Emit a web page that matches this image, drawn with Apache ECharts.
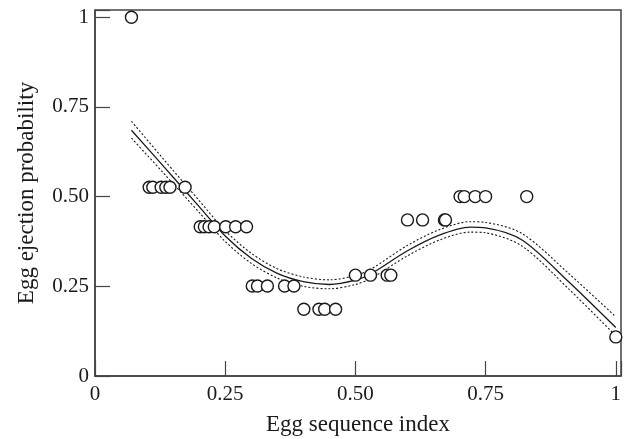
<!DOCTYPE html>
<html>
<head>
<meta charset="utf-8">
<script src="https://cdn.jsdelivr.net/npm/echarts@6/dist/echarts.min.js"></script>
<style>
  html, body { margin: 0; padding: 0; background: #fff; }
  #chart { width: 630px; height: 439px; }
</style>
</head>
<body>
<div id="chart"></div>
<script>
// observed eggs: sequence index vs ejection probability
var eggIndex = [0.070,
  0.104, 0.111, 0.127, 0.136, 0.144, 0.173,
  0.202, 0.210, 0.219, 0.229, 0.251, 0.270, 0.291,
  0.302, 0.312, 0.331, 0.364, 0.382,
  0.401, 0.430, 0.441, 0.462,
  0.500, 0.529, 0.561, 0.568,
  0.600, 0.629, 0.671, 0.673,
  0.701, 0.709, 0.730, 0.750, 0.829,
  1.000];
var ejectProb = [1.000,
  0.526, 0.526, 0.526, 0.526, 0.526, 0.526,
  0.416, 0.416, 0.416, 0.416, 0.416, 0.416, 0.416,
  0.251, 0.251, 0.251, 0.251, 0.251,
  0.186, 0.186, 0.186, 0.186,
  0.281, 0.281, 0.281, 0.281,
  0.435, 0.435, 0.435, 0.435,
  0.500, 0.500, 0.500, 0.500, 0.500,
  0.109];

// fitted curve with its confidence band
var fitX     = [0.07, 0.13, 0.20, 0.25, 0.30, 0.35, 0.40, 0.45, 0.50, 0.53, 0.60, 0.66, 0.72, 0.75, 0.82, 0.91, 1.00];
var fitY     = [0.685, 0.587, 0.472, 0.390, 0.328, 0.286, 0.263, 0.255, 0.267, 0.285, 0.349, 0.392, 0.415, 0.413, 0.379, 0.262, 0.135];
var fitUpper = [0.710, 0.607, 0.489, 0.405, 0.342, 0.299, 0.276, 0.268, 0.280, 0.298, 0.364, 0.407, 0.430, 0.428, 0.397, 0.285, 0.165];
var fitLower = [0.663, 0.568, 0.456, 0.375, 0.314, 0.273, 0.250, 0.243, 0.255, 0.272, 0.335, 0.378, 0.401, 0.399, 0.362, 0.242, 0.112];

var xTicks = [0, 0.25, 0.5, 0.75, 1];
var yTicks = [0, 0.25, 0.5, 0.75, 1];

function pairs(xs, ys) {
  return xs.map(function(x, i) { return [x, ys[i]]; });
}

function tickLabel(ticks) {
  return function(v) {
    for (var i = 0; i < ticks.length; i++) {
      if (Math.abs(v - ticks[i]) < 1e-6) {
        if (v === 0) return '0';
        if (v === 1) return '1';
        return v.toFixed(2);
      }
    }
    return '';
  };
}

var ink = '#1a1a1a';
var font = '"Liberation Serif", "DejaVu Serif", serif';

var chart = echarts.init(document.getElementById('chart'));
chart.setOption({
  animation: false,
  backgroundColor: '#fff',
  grid: {
    left: 95, right: 9, top: 10, bottom: 63,
    outerBoundsMode: 'none',
    show: true, borderColor: '#444', borderWidth: 1.5
  },
  xAxis: {
    type: 'value', min: 0, max: 1.01, interval: 0.25,
    name: 'Egg sequence index', nameLocation: 'middle', nameGap: 37,
    nameTextStyle: { fontFamily: font, fontSize: 23, color: ink },
    splitLine: { show: false },
    axisLine: { lineStyle: { color: '#444', width: 1.5 } },
    axisTick: { inside: true, length: 15, lineStyle: { color: '#444', width: 1.2 } },
    axisLabel: { fontFamily: font, fontSize: 21, color: ink, margin: 8, formatter: tickLabel(xTicks) }
  },
  yAxis: {
    type: 'value', min: 0, max: 1.02, interval: 0.25,
    name: 'Egg ejection probability', nameLocation: 'middle', nameGap: 57,
    nameTextStyle: { fontFamily: font, fontSize: 23, color: ink },
    splitLine: { show: false },
    axisLine: { lineStyle: { color: '#444', width: 1.5 } },
    axisTick: { inside: true, length: 15, lineStyle: { color: '#444', width: 1.2 } },
    axisLabel: { fontFamily: font, fontSize: 21, color: ink, margin: 6, formatter: tickLabel(yTicks) }
  },
  series: [
    {
      type: 'line', data: pairs(fitX, fitUpper), smooth: 0.3, symbol: 'none', z: 2,
      lineStyle: { color: ink, width: 1.1, type: [2, 2] }
    },
    {
      type: 'line', data: pairs(fitX, fitLower), smooth: 0.3, symbol: 'none', z: 2,
      lineStyle: { color: ink, width: 1.1, type: [2, 2] }
    },
    {
      type: 'line', data: pairs(fitX, fitY), smooth: 0.3, symbol: 'none', z: 3,
      lineStyle: { color: ink, width: 1.3 }
    },
    {
      type: 'scatter', data: pairs(eggIndex, ejectProb), symbol: 'circle', symbolSize: 12, z: 5,
      itemStyle: { color: '#fff', borderColor: ink, borderWidth: 1.4, opacity: 1 }
    }
  ]
});
</script>
</body>
</html>
